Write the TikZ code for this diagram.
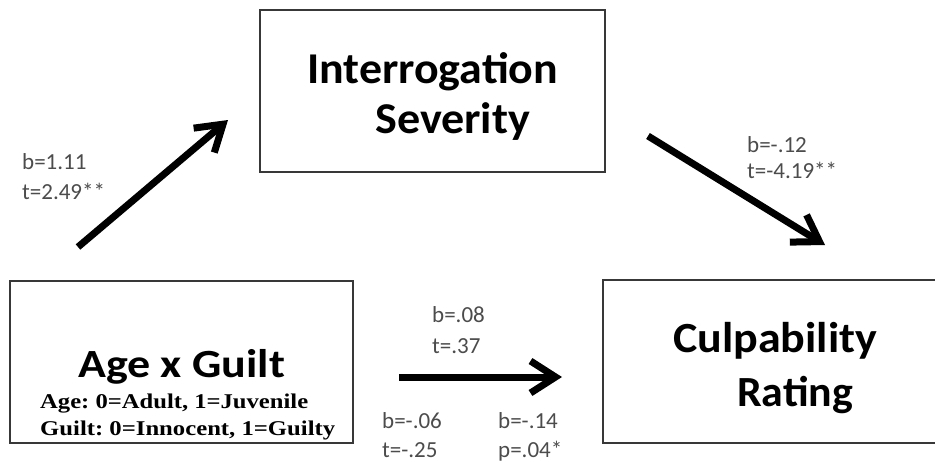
\documentclass[tikz,border=0pt]{standalone}
\usepackage{fontspec}
\usetikzlibrary{arrows.meta}
\newfontfamily\carl{Carlito}
\newfontfamily\notefont{Liberation Serif}
\newsavebox\fitsbox
\newcommand\fitto[2]{\sbox\fitsbox{#2}\pgfmathsetmacro\fitx{#1/\the\wd\fitsbox}\scalebox{\fitx}[1]{\usebox\fitsbox}}
\frenchspacing
\begin{document}
\begin{tikzpicture}[x=1pt,y=-1pt,
  box/.style={draw=black!78, line width=2.2pt, inner sep=0pt},
  title/.style={anchor=base west, inner sep=0pt, font=\carl\bfseries\fontsize{44}{50}\selectfont},
  note/.style={anchor=base west, inner sep=0pt, font=\notefont\bfseries\fontsize{21}{24}\selectfont},
  lab/.style={anchor=base west, inner sep=0pt, text=black!70, font=\carl\fontsize{23}{28}\selectfont},
  arr/.style={line width=7pt, -{Straight Barb[length=25pt,width=32pt]}}
]
\clip (0,0) rectangle (935,461);
\fill[white] (0,0) rectangle (935,461);

% boxes
\node[box, minimum width=345pt, minimum height=162pt] (is) at (432.5,91) {};
\node[box, minimum width=343pt, minimum height=162pt] (ag) at (181.5,362) {};
\node[box, minimum width=340pt, minimum height=163pt] (cr) at (773,361.5) {};

% titles
\node[title] (t1) at (307,83) {\fitto{251pt}{Interrogation}};
\node[title] (t2) at (375,133) {\fitto{155pt}{Severity}};
\node[title, font=\carl\bfseries\fontsize{40}{45}\selectfont] (t3) at (78,377) {\fitto{207pt}{Age x Guilt}};
\node[title, font=\carl\bfseries\fontsize{43}{50}\selectfont] (t4) at (673,352) {\fitto{204pt}{Culpability}};
\node[title, font=\carl\bfseries\fontsize{43}{50}\selectfont] (t5) at (737,406) {\fitto{116pt}{Rating}};

% coding notes
\node[note] (n1) at (40,408) {\fitto{268pt}{Age: 0=Adult, 1=Juvenile}};
\node[note] (n2) at (40,435) {\fitto{295pt}{Guilt: 0=Innocent, 1=Guilty}};

% arrows
\coordinate (a1s) at (78,247);  \coordinate (a1e) at (228,120);
\coordinate (a2s) at (648,136); \coordinate (a2e) at (825,245);
\coordinate (a3s) at (399,377); \coordinate (a3e) at (562,377);
\draw[arr] (a1s) -- (a1e);
\draw[arr] (a2s) -- (a2e);
\draw[arr] (a3s) -- (a3e);

% coefficient labels
\node[lab] (l1) at (22,169) {b=1.11};
\node[lab] (l2) at (22,199) {t=2.49**};
\node[lab] (l3) at (747,152) {b=-.12};
\node[lab] (l4) at (747,178) {t=-4.19**};
\node[lab] (l5) at (432,322) {b=.08};
\node[lab] (l6) at (432,353) {t=.37};
\node[lab] (l7) at (382,428) {b=-.06};
\node[lab] (l8) at (382,457) {t=-.25};
\node[lab] (l9) at (498,428) {b=-.14};
\node[lab] (l10) at (498,457) {p=.04*};
\end{tikzpicture}
\end{document}
